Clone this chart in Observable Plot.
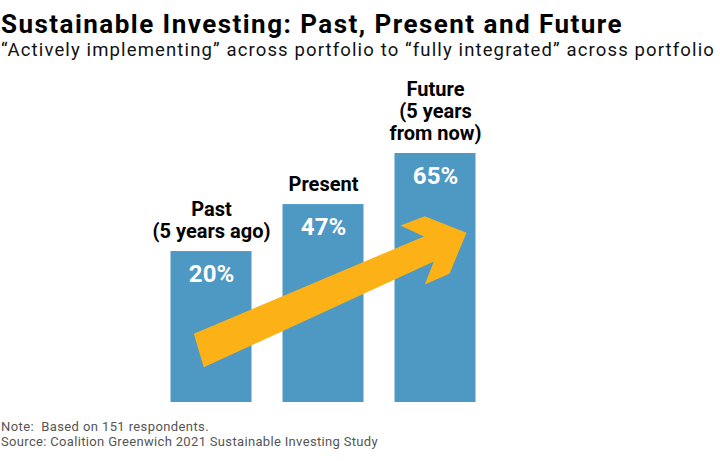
<!DOCTYPE html>
<html><head><meta charset="utf-8">
<script src="https://cdn.jsdelivr.net/npm/d3@7"></script>
<script src="https://cdn.jsdelivr.net/npm/@observablehq/plot@0.6"></script>
<style>
body{margin:0;background:#fff;font-family:Roboto, sans-serif;}
#wrap{position:relative;width:720px;height:461px;overflow:hidden;background:#fff;}
#chart{position:absolute;left:0;top:0;}
.t{position:absolute;left:1px;white-space:pre;}
#title{top:9.4px;font-size:26px;line-height:30px;font-weight:700;color:#000;}
#subtitle{top:38.7px;font-size:18.5px;line-height:22px;color:#111;}
.note{font-size:13px;line-height:15px;color:#555;}
#note1{top:418.8px;}
#note2{top:433.8px;}
</style></head><body>
<div id="wrap">
<div id="chart"></div>
<div class="t" id="title"></div>
<div class="t" id="subtitle"></div>
<div class="t note" id="note1"></div>
<div class="t note" id="note2"></div>
</div>
<script>
// ---- data ----
const periods = ["Past", "Present", "Future"];
const periodLabels = ["Past\n(5 years ago)", "Present", "Future\n(5 years\nfrom now)"];
const shares = [20, 47, 65];
const valueLabels = ["20%", "47%", "65%"];
const titleText = "Sustainable Investing: Past, Present and Future";
const subtitleText = "\u201cActively implementing\u201d across portfolio to \u201cfully integrated\u201d across portfolio";
const noteLines = ["Note:  Based on 151 respondents.", "Source: Coalition Greenwich 2021 Sustainable Investing Study"];
// decorative arrow outline, in (period index, share) units
const arrowPath = [[0.342,-52.3],[2.396,31.2],[2.1875,37.35],[2.4045,41.91],[2.7768,33.37],[2.625,-20.3],[2.4045,-28.6],[2.4848,5.9],[0.431,-63.7]];

const table = periods.map((p, i) => ({i, period: p, label: periodLabels[i], share: shares[i], text: valueLabels[i]}));
const base = -73.9;

const chart = Plot.plot({
  width: 720, height: 461, margin: 0,
  style: {fontFamily: "Roboto, sans-serif", background: "transparent"},
  x: {type: "linear", domain: [0, 3], range: [155, 491], axis: null},
  y: {type: "pow", exponent: 1.95, domain: [base, 65], range: [402, 153], axis: null},
  marks: [
    Plot.rectY(table, {x1: d => d.i, x2: d => d.i + 1, y1: base, y2: "share", insetLeft: 15.5, insetRight: 15.5, fill: "#4E98C4"}),
    Plot.line(arrowPath, {x: d => d[0], y: d => d[1], fill: "#FCB216", stroke: "none", curve: "linear-closed"}),
    Plot.text(table, {x: d => d.i + 0.5, y: "share", text: "text", lineAnchor: "bottom", dy: 30, fill: "white", fontSize: 24, fontWeight: 700}),
    Plot.text(table, {x: d => d.i + 0.5, y: "share", text: "label", lineAnchor: "bottom", dy: -14, fill: "black", fontSize: 20, fontWeight: 700, lineHeight: 1.1})
  ]
});
document.getElementById("chart").appendChild(chart);

function setFit(id, txt, target) {
  const el = document.getElementById(id);
  el.textContent = txt;
  const w = el.getBoundingClientRect().width;
  el.style.letterSpacing = ((target - w) / txt.length) + "px";
}
setFit("title", titleText, 622);
setFit("subtitle", subtitleText, 714);
setFit("note1", noteLines[0], 208);
setFit("note2", noteLines[1], 377);
</script>
</body></html>
